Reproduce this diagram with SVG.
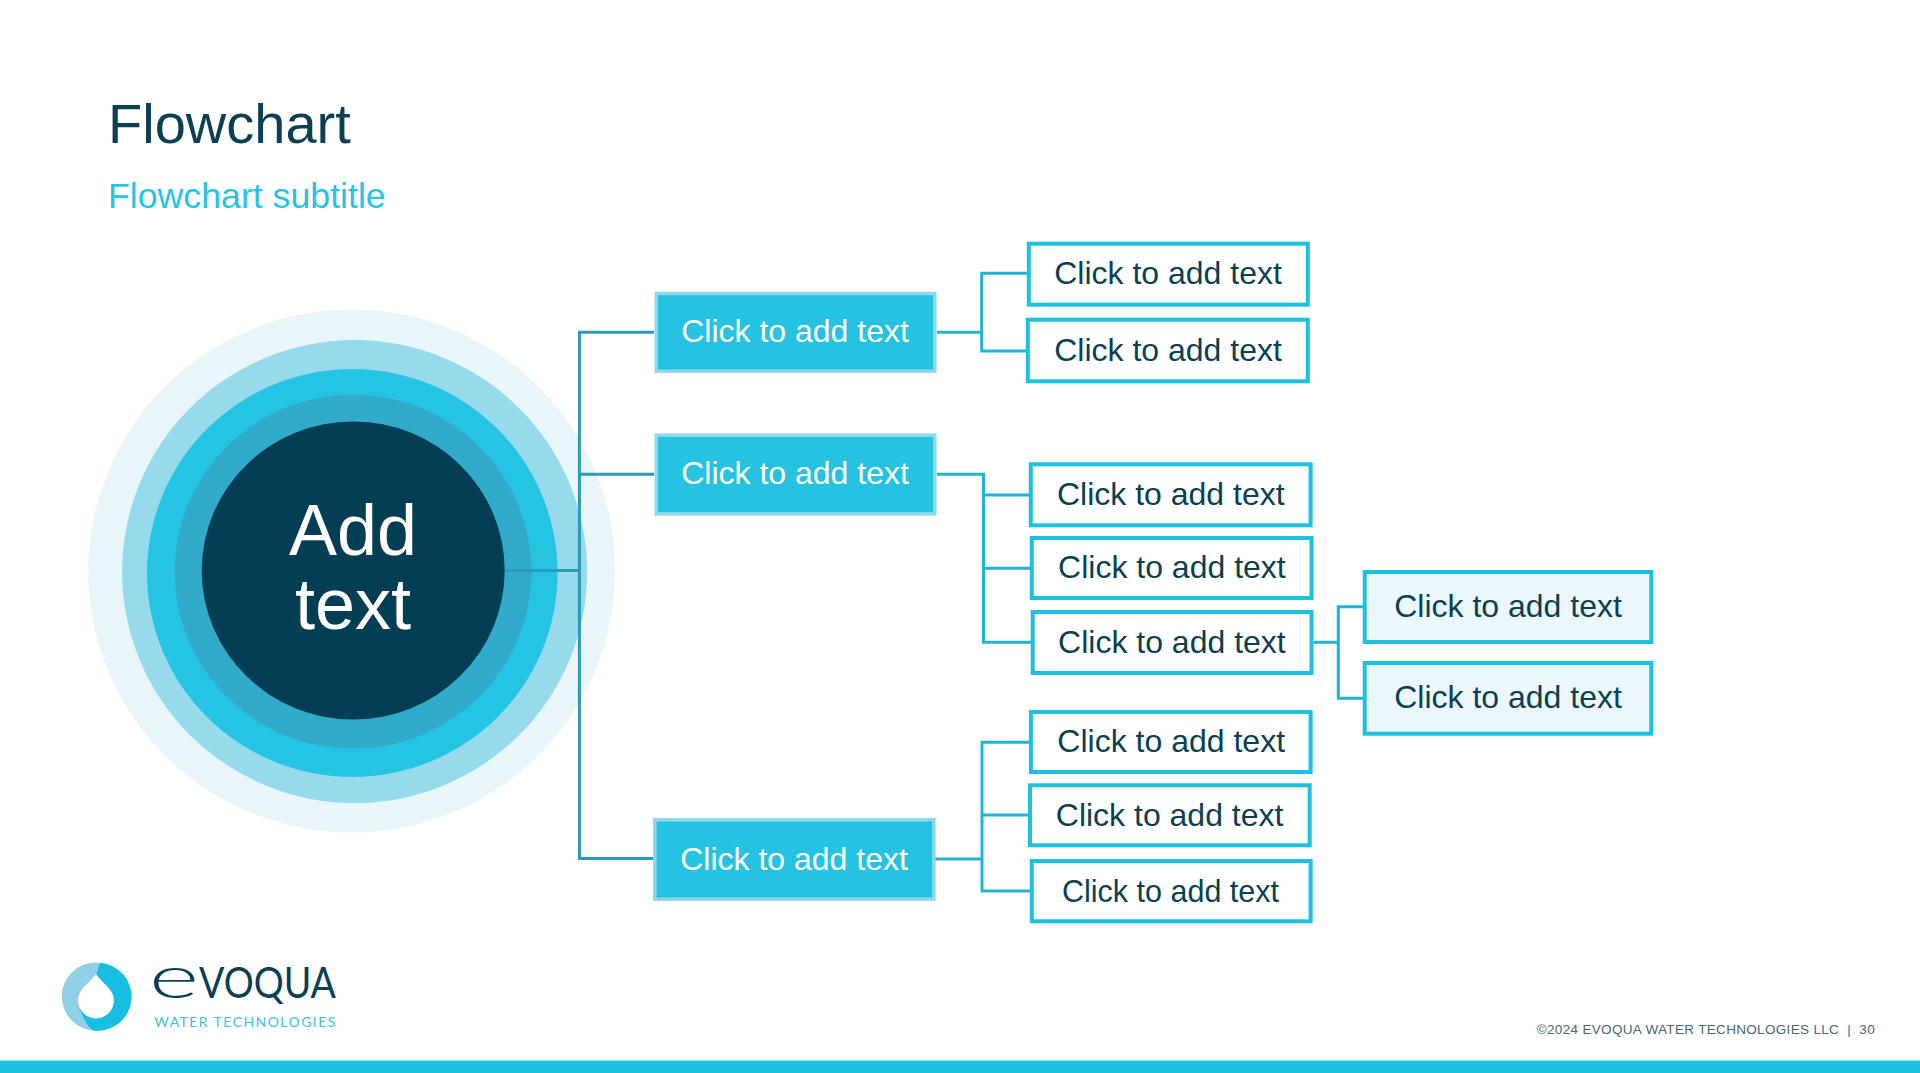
<svg xmlns="http://www.w3.org/2000/svg" width="1920" height="1073" viewBox="0 0 1920 1073">
<style>
text{font-family:"Liberation Sans",Arial,sans-serif}
.title{font-size:56px;fill:#0b3f52}
.sub{font-size:35.7px;fill:#2ac3e2}
.lbl{font-size:32px;text-anchor:middle;fill:#0b3f52}
.blue rect{fill:#26c2e2;stroke:#8fd8ea;stroke-width:3.5}
.blue text{fill:#fff}
.white rect{fill:#fff;stroke:#1cc1e0;stroke-width:4}
.light rect{fill:#ebf7fa;stroke:#1cc1e0;stroke-width:4}
.big{font-size:72px;text-anchor:middle;fill:#fff}
.main{fill:none;stroke:#2a9ab6;stroke-width:3}
.subc{fill:none;stroke:#20b4d2;stroke-width:3}
</style>
<rect width="1920" height="1073" fill="#fff"/>
<text class="title" x="108" y="143">Flowchart</text>
<text class="sub" x="108" y="208">Flowchart subtitle</text>

<g id="center">
<ellipse cx="351.7" cy="571" rx="263.5" ry="261.5" fill="#e8f6fa"/>
<ellipse cx="354.6" cy="571.6" rx="232.5" ry="231.5" fill="#97daec"/>
<ellipse cx="352.3" cy="573" rx="205.3" ry="204" fill="#26c4e3"/>
<ellipse cx="353" cy="571.6" rx="178.5" ry="177" fill="#32abcb"/>
<ellipse cx="353.2" cy="570.5" rx="151.5" ry="149" fill="#033e54"/>
<text class="big" x="353" y="555">Add</text>
<text class="big" x="353" y="629">text</text>
</g>

<g id="connectors">
<path class="main" d="M505.6 570.4H579.4M654 332.3H579.4V858.5H654M579.4 474.3H654"/>
<path class="subc" d="M937 332.3H981.7M1027 273.3H981.7V351H1026"/>
<path class="subc" d="M937 474.3H983.5V642.3H1031M983.5 495H1029M983.5 568.3H1030"/>
<path class="subc" d="M1313.5 642.3H1338.3M1363 606.7H1338.3V698.3H1363"/>
<path class="subc" d="M935 859H982M1030 742.3H982V891H1030M982 815H1028"/>
</g>

<g id="n1" class="blue"><rect x="656.3" y="293.5" width="278.5" height="77.7"/><text class="lbl" x="795" y="342">Click to add text</text></g>
<g id="n2" class="blue"><rect x="656.3" y="435.1" width="278.5" height="78.8"/><text class="lbl" x="795" y="483.5">Click to add text</text></g>
<g id="n3" class="blue"><rect x="654.8" y="819.8" width="279" height="79.4"/><text class="lbl" x="794" y="870">Click to add text</text></g>

<g id="n4" class="white"><rect x="1028.8" y="243.7" width="279" height="61"/><text class="lbl" x="1168" y="284">Click to add text</text></g>
<g id="n5" class="white"><rect x="1027.8" y="319.7" width="280" height="61.6"/><text class="lbl" x="1168" y="361">Click to add text</text></g>
<g id="n6" class="white"><rect x="1030.8" y="464.3" width="279.8" height="61"/><text class="lbl" x="1170.8" y="505">Click to add text</text></g>
<g id="n7" class="white"><rect x="1031.8" y="538" width="279.7" height="60"/><text class="lbl" x="1171.9" y="578">Click to add text</text></g>
<g id="n8" class="white"><rect x="1032.7" y="612" width="278.8" height="61"/><text class="lbl" x="1171.9" y="653">Click to add text</text></g>
<g id="n9" class="light"><rect x="1364.7" y="572" width="286.6" height="70"/><text class="lbl" x="1508" y="617">Click to add text</text></g>
<g id="n10" class="light"><rect x="1364.7" y="663" width="286.6" height="70.7"/><text class="lbl" x="1508" y="708">Click to add text</text></g>
<g id="n11" class="white"><rect x="1030.9" y="712" width="279.7" height="60"/><text class="lbl" x="1171.2" y="752">Click to add text</text></g>
<g id="n12" class="white"><rect x="1030" y="785.3" width="279.7" height="60"/><text class="lbl" x="1169.6" y="826">Click to add text</text></g>
<g id="n13" class="white"><rect x="1031.8" y="861" width="278.8" height="60.3"/><text class="lbl" x="1170.5" y="901.5" style="font-size:30.5px">Click to add text</text></g>

<g id="logo">
<circle cx="95.8" cy="996.5" r="34" fill="#8fd0e7"/>
<path d="M100 962.8A34 34 0 1 1 93 1030.4C87 1027 84 1018 79 1008L96 1000L96 975Z" fill="#18bde2"/>
<path d="M96 974C92 981 78 989 78 1000C78 1010 86 1018.5 96 1018.5C106 1018.5 114 1010 114 1000C114 989 100 981 96 974Z" fill="#fff"/>
<text y="998" style="font-family:Lato,'Liberation Sans',sans-serif;fill:#0b3f52"><tspan x="149" font-size="60" font-weight="300" textLength="50" lengthAdjust="spacingAndGlyphs">e</tspan><tspan x="199" font-size="42" font-weight="400" textLength="137" lengthAdjust="spacingAndGlyphs">VOQUA</tspan></text>
<text x="154.3" y="1026.7" font-size="14" textLength="181" lengthAdjust="spacing" style="font-family:Lato,'Liberation Sans',sans-serif;fill:#3fc1dc">WATER TECHNOLOGIES</text>
</g>

<text x="1536.7" y="1034" font-size="13.5" textLength="338" lengthAdjust="spacing" fill="#4a6672" style="white-space:pre">©2024 EVOQUA WATER TECHNOLOGIES LLC  |  30</text>
<rect x="0" y="1060.5" width="1920" height="12.5" fill="#1cc4e2"/>
</svg>
